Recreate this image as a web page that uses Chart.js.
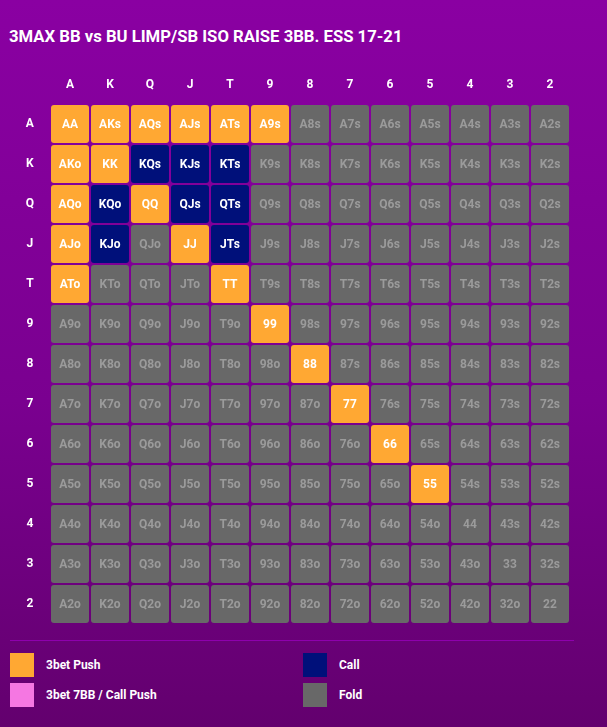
<!DOCTYPE html>
<html>
<head>
<meta charset="utf-8">
<script src="https://cdn.jsdelivr.net/npm/chart.js@4"></script>
<style>
    html, body {
        margin: 0;
        width: 607px;
        height: 727px;
        overflow: hidden;
        font-family: Roboto, "Noto Sans", sans-serif;
    }
    body {
        position: relative;
        background: linear-gradient(to bottom, #8a00a2 0%, #7a0090 55%, #63006e 100%);
    }
    #titulo {
        position: absolute;
        left: 9px;
        top: 27px;
        color: #fff;
        font-weight: 700;
        font-size: 16.7px;
    }
    #grafico {
        position: absolute;
        left: 0;
        top: 0;
        width: 607px;
        height: 640px;
    }
    #divisor {
        position: absolute;
        left: 10px;
        top: 640px;
        width: 564px;
        height: 1px;
        background: #8e00ad;
    }
    #leyenda {
        position: absolute;
        left: 10px;
        top: 653px;
        width: 564px;
        display: grid;
        grid-template-columns: 293px 271px;
        row-gap: 6px;
    }
    .item {
        display: flex;
        align-items: center;
        height: 24px;
        color: #fff;
        font-weight: 700;
        font-size: 12px;
    }
    .muestra {
        width: 24px;
        height: 24px;
        margin-right: 12px;
    }
</style>
</head>
<body>
<div id="titulo">3MAX BB vs BU LIMP/SB ISO RAISE 3BB. ESS 17-21</div>
<div id="grafico"><canvas id="chart-rango"></canvas></div>
<div id="divisor"></div>
<div id="leyenda"></div>

<script>
// --- DATOS ---
const rangos = ['A', 'K', 'Q', 'J', 'T', '9', '8', '7', '6', '5', '4', '3', '2'];

// P = 3bet Push, M = 3bet 7BB / Call Push, C = Call, F = Fold (fila = primera carta)
const filaA = ['P', 'P', 'P', 'P', 'P', 'P', 'F', 'F', 'F', 'F', 'F', 'F', 'F'];
const filaK = ['P', 'P', 'C', 'C', 'C', 'F', 'F', 'F', 'F', 'F', 'F', 'F', 'F'];
const filaQ = ['P', 'C', 'P', 'C', 'C', 'F', 'F', 'F', 'F', 'F', 'F', 'F', 'F'];
const filaJ = ['P', 'C', 'F', 'P', 'C', 'F', 'F', 'F', 'F', 'F', 'F', 'F', 'F'];
const filaT = ['P', 'F', 'F', 'F', 'P', 'F', 'F', 'F', 'F', 'F', 'F', 'F', 'F'];
const fila9 = ['F', 'F', 'F', 'F', 'F', 'P', 'F', 'F', 'F', 'F', 'F', 'F', 'F'];
const fila8 = ['F', 'F', 'F', 'F', 'F', 'F', 'P', 'F', 'F', 'F', 'F', 'F', 'F'];
const fila7 = ['F', 'F', 'F', 'F', 'F', 'F', 'F', 'P', 'F', 'F', 'F', 'F', 'F'];
const fila6 = ['F', 'F', 'F', 'F', 'F', 'F', 'F', 'F', 'P', 'F', 'F', 'F', 'F'];
const fila5 = ['F', 'F', 'F', 'F', 'F', 'F', 'F', 'F', 'F', 'P', 'F', 'F', 'F'];
const fila4 = ['F', 'F', 'F', 'F', 'F', 'F', 'F', 'F', 'F', 'F', 'F', 'F', 'F'];
const fila3 = ['F', 'F', 'F', 'F', 'F', 'F', 'F', 'F', 'F', 'F', 'F', 'F', 'F'];
const fila2 = ['F', 'F', 'F', 'F', 'F', 'F', 'F', 'F', 'F', 'F', 'F', 'F', 'F'];
const acciones = [filaA, filaK, filaQ, filaJ, filaT, fila9, fila8, fila7, fila6, fila5, fila4, fila3, fila2];

const leyendaCodigos = ['P', 'C', 'M', 'F'];
const leyendaNombres = ['3bet Push', 'Call', '3bet 7BB / Call Push', 'Fold'];

// --- ESTILOS ---
const colores = { P: '#ffa833', M: '#f577e2', C: '#00107a', F: '#686868' };
const coloresTexto = { P: '#ffffff', M: '#ffffff', C: '#ffffff', F: '#9b9b9b' };

function nombreMano(i, j) {
    if (i === j) return rangos[i] + rangos[j];
    if (j > i) return rangos[i] + rangos[j] + 's';
    return rangos[j] + rangos[i] + 'o';
}

// Un dataset por fila, cada celda es una barra flotante [fila, fila + 1]
const datasets = acciones.map((fila, i) => ({
    label: rangos[i],
    data: fila.map(() => [i, i + 1]),
    manos: fila.map((_, j) => nombreMano(i, j)),
    backgroundColor: fila.map(a => colores[a]),
    textColors: fila.map(a => coloresTexto[a]),
    borderColor: 'rgba(0,0,0,0)',
    borderWidth: 1,
    borderSkipped: false,
    borderRadius: 4,
    inflateAmount: 0,
    grouped: false,
    barPercentage: 1,
    categoryPercentage: 1
}));

// Plugin para escribir el nombre de la mano en cada celda
const textoCeldas = {
    id: 'textoCeldas',
    afterDatasetsDraw(chart) {
        const ctx = chart.ctx;
        ctx.save();
        ctx.font = 'bold 12px Roboto, "Noto Sans", sans-serif';
        ctx.textAlign = 'center';
        ctx.textBaseline = 'middle';
        chart.data.datasets.forEach((ds, i) => {
            chart.getDatasetMeta(i).data.forEach((bar, j) => {
                const c = bar.getCenterPoint();
                ctx.fillStyle = ds.textColors[j];
                ctx.fillText(ds.manos[j], c.x, c.y + 1);
            });
        });
        ctx.restore();
    }
};

Chart.defaults.font.family = 'Roboto, "Noto Sans", sans-serif';

new Chart(document.getElementById('chart-rango').getContext('2d'), {
    type: 'bar',
    data: { labels: rangos, datasets: datasets },
    plugins: [textoCeldas],
    options: {
        responsive: true,
        maintainAspectRatio: false,
        animation: false,
        layout: { padding: { left: 0, top: 0, right: 37, bottom: 16 } },
        plugins: {
            legend: { display: false },
            tooltip: { enabled: false }
        },
        scales: {
            x: {
                type: 'category',
                position: 'top',
                stacked: false,
                grid: { display: false, drawTicks: false },
                border: { display: false },
                ticks: {
                    color: '#ffffff',
                    font: { size: 12, weight: 'bold' },
                    padding: 12
                },
                afterFit(scale) { scale.height = 104; }
            },
            y: {
                type: 'linear',
                min: 0,
                max: 13,
                reverse: true,
                grid: { display: false, drawTicks: false },
                border: { display: false },
                afterBuildTicks(scale) {
                    scale.ticks = rangos.map((r, i) => ({ value: i + 0.5 }));
                },
                ticks: {
                    color: '#ffffff',
                    font: { size: 12, weight: 'bold' },
                    crossAlign: 'center',
                    padding: 16,
                    callback: (v, idx) => rangos[idx]
                },
                afterFit(scale) {
                    scale.width = 50;
                    // sin relleno extra arriba/abajo por las etiquetas
                    scale.paddingTop = 0;
                    scale.paddingBottom = 0;
                }
            }
        }
    }
});

// --- LEYENDA ---
const leyenda = document.getElementById('leyenda');
leyendaCodigos.forEach((cod, k) => {
    const item = document.createElement('div');
    item.className = 'item';
    item.innerHTML = `<div class="muestra" style="background:${colores[cod]}"></div><span>${leyendaNombres[k]}</span>`;
    leyenda.appendChild(item);
});
</script>
</body>
</html>
